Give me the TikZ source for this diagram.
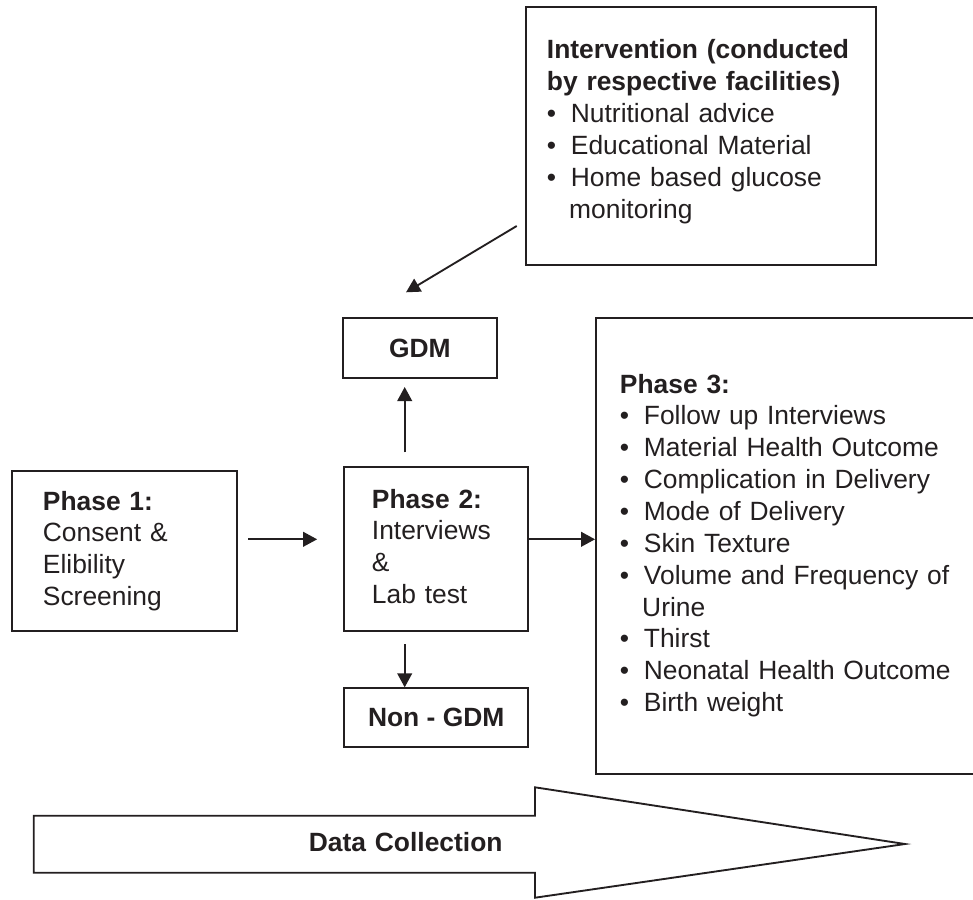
\documentclass[tikz,border=0pt]{standalone}
\usepackage{fontspec}
\setmainfont{Liberation Sans}
\usetikzlibrary{arrows.meta}

\definecolor{ink}{RGB}{35,31,32}
\tikzset{every picture/.style={line width=1.4pt}}
\tikzset{
  box/.style={draw=ink, text=ink, inner sep=0pt,
    font=\fontsize{19.8pt}{23.9pt}\selectfont\bfseries},
  txt/.style={anchor=base west, inner sep=0pt, text width=340pt, align=left,
    text=ink, font=\fontsize{19.8pt}{23.9pt}\selectfont},
  arr/.style={draw=ink, -{Triangle[length=10.5pt,width=11pt]}},
}
\newcommand{\itm}[1]{\makebox[18pt][l]{\textbullet}#1}

\begin{document}
\begin{tikzpicture}[x=0.75pt,y=0.75pt,yscale=-1,xscale=1]
\clip (0,0) rectangle (973,899);

%Shape: Rectangle [intervention]
\node[box, minimum width=262.5pt, minimum height=193.3pt] (intv) at (701,136.2) {};
% Text Node
\node[txt] (intvtext) at (546,58.7) {\textbf{Intervention (conducted}\\
  \textbf{by respective facilities)}\\
  \itm{Nutritional advice}\\
  \itm{Educational Material}\\
  \itm{Home based glucose}\\
  \hspace*{16.7pt}monitoring};

%Shape: Rectangle [phase 1]
\node[box, minimum width=168.8pt, minimum height=119.8pt] (ph1) at (124.2,550.9) {};
% Text Node
\node[txt] (ph1text) at (42,510) {\textbf{Phase 1:}\\ Consent \&\\ Elibility\\ Screening};

%Shape: Rectangle [phase 2]
\node[box, minimum width=138.2pt, minimum height=122.6pt] (ph2) at (436.2,549) {};
% Text Node
\node[txt] (ph2text) at (371,508) {\textbf{Phase 2:}\\ Interviews\\ \&\\ Lab test};

%Shape: Rectangle [outcome boxes]
\node[box, minimum width=115.7pt, minimum height=45.5pt] (gdm) at (419.9,348) {GDM};
\node[box, minimum width=138.2pt, minimum height=44.3pt] (nongdm) at (436.2,717.8) {Non - GDM};

%Shape: Rectangle [phase 3]
\node[box, minimum width=295.5pt, minimum height=342.5pt] (ph3) at (793,546) {};
% Text Node
\node[txt] (ph3text) at (619,393) {\textbf{Phase 3:}\\
  \itm{Follow up Interviews}\\
  \itm{Material Health Outcome}\\
  \itm{Complication in Delivery}\\
  \itm{Mode of Delivery}\\
  \itm{Skin Texture}\\
  \itm{Volume and Frequency of}\\
  \hspace*{16.7pt}Urine\\
  \itm{Thirst}\\
  \itm{Neonatal Health Outcome}\\
  \itm{Birth weight}};

%Straight Lines
\coordinate (a12) at (248,539.3);
\coordinate (aup) at (404.7,452.3);
\coordinate (adn) at (404.7,644.3);
\coordinate (dtail) at (516.7,226);
\coordinate (dtip) at (406,292.3);
\draw[arr, shorten >=19.5pt] (a12) -- (a12 -| ph2.west);
\draw[arr] (a12 -| ph2.east) -- (a12 -| ph3.west);
\draw[arr, shorten >=5.8pt] (aup) -- (aup |- gdm.south);
\draw[arr] (adn) -- (adn |- nongdm.north);
\draw[arr] (dtail) -- (dtip);

%Shape: Right Arrow [data collection]
\draw[draw=ink] (33.7,815.7) -- (535,815.7) -- (535,787.3) -- (905,844) -- (535,897.7) -- (535,872.7) -- (33.7,872.7) -- cycle;
% Text Node
\node[txt] (dctext) at (308,851.7) {\textbf{Data Collection}};

\end{tikzpicture}
\end{document}
